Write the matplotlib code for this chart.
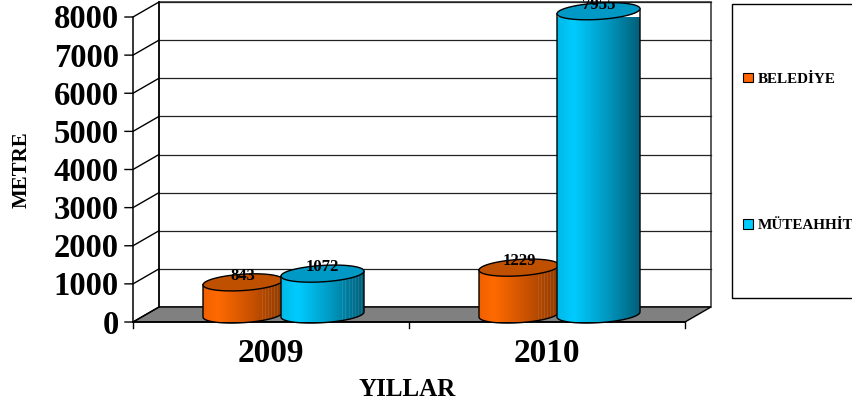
import numpy as np
import matplotlib
matplotlib.use("Agg")
import matplotlib.pyplot as plt
from matplotlib.colors import LinearSegmentedColormap
from matplotlib.patches import PathPatch, Polygon, Rectangle
from matplotlib.path import Path

years = ["2009", "2010"]
belediye = [843, 1229]
muteahhit = [1072, 7955]
series_names = ["BELEDİYE", "MÜTEAHHİT"]
y_ticks = [0, 1000, 2000, 3000, 4000, 5000, 6000, 7000, 8000]
y_label = "METRE"
x_label = "YILLAR"

W, H = 852, 408
plt.rcParams["font.family"] = ["Liberation Serif", "DejaVu Serif"]
plt.rcParams["font.weight"] = "bold"
fig = plt.figure(figsize=(W / 100, H / 100), dpi=100)

L, R, T, B = 133, 685, 17, 322
ax = fig.add_axes([L / W, 1 - B / H, (R - L) / W, (B - T) / H])
ax.axis("off")
PX = (R - L) / 2
PY = (B - T) / 8000
DX = 26 / PX       # depth of the box, x units
DY = 15 / PY       # depth of the box, y units
ELL_B = 8.2 / PY   # half height of the ellipse
TILT = 2.5 / PY    # right side of the ellipse sits higher
BASE = 7.5 / PY    # cylinder base centre above the front edge

# walls and floor
ax.add_patch(Polygon([(0, 0), (2, 0), (2 + DX, DY), (DX, DY)], closed=True,
                     fc="#808080", ec="black", lw=1, zorder=1, clip_on=False))
ax.add_patch(Rectangle((DX, DY), 2, 8000, fc="white", ec="#404040", lw=1.2, zorder=0.5, clip_on=False))
for v in y_ticks:
    if v > 0:
        ax.plot([DX, 2 + DX], [v + DY, v + DY], color="#222222", lw=0.9, zorder=0.8, clip_on=False)
    ax.plot([-8 / PX, 0, DX], [v, v, v + DY], color="black", lw=1, zorder=1.2, clip_on=False)
    ax.text(-14 / PX, v - 3 / PY, f"{v}", ha="right", va="center", fontsize=23.5, fontweight="bold", clip_on=False)
ax.plot([0, 0], [0, 8000], color="black", lw=1.1, zorder=1.2, clip_on=False)
ax.plot([DX, DX], [DY, 8000 + DY], color="black", lw=1.1, zorder=1.2, clip_on=False)
for x in [0, 1, 2]:
    ax.plot([x, x], [0, -6 / PY], color="black", lw=1, clip_on=False)
ax.plot([0, 2], [0, 0], color="black", lw=1.2, zorder=1.3, clip_on=False)

cm_orange = LinearSegmentedColormap.from_list("o", [(0, "#F06000"), (0.18, "#FF6A00"), (0.55, "#D05400"), (1, "#8F3A00")])
cm_blue = LinearSegmentedColormap.from_list("b", [(0, "#00B8E6"), (0.2, "#00CCFF"), (0.6, "#0099C2"), (1, "#005F7A")])
grad = np.linspace(0, 1, 256).reshape(1, -1)
streak_pos = np.linspace(0.74, 0.96, 7)


def cylinder(xc, width, value, cmap, top, z, streaks):
    x0, x1 = xc - width / 2, xc + width / 2
    y0, y1 = BASE, value + BASE
    t = np.linspace(np.pi, 2 * np.pi, 60)
    xs = xc + width / 2 * np.cos(t)
    ys = y0 + ELL_B * np.sin(t) + TILT * np.cos(t)
    verts = list(zip(xs, ys)) + [(x1, y1 + TILT), (x0, y1 - TILT), (xs[0], ys[0])]
    patch = PathPatch(Path(verts, closed=True), fc="none", ec="black", lw=1, zorder=z + 0.2, clip_on=False)
    ax.add_patch(patch)
    im = ax.imshow(grad, cmap=cmap, extent=[x0, x1, y0 - 2 * ELL_B, y1 + TILT], aspect="auto",
                   zorder=z, interpolation="bilinear")
    im.set_clip_path(patch)
    if streaks:
        for f in streak_pos:
            ln, = ax.plot([x0 + f * width] * 2, [y0 - 2 * ELL_B, y1 + TILT], color="white",
                          lw=0.6, alpha=0.12, zorder=z + 0.1)
            ln.set_clip_path(patch)
    t2 = np.linspace(0, 2 * np.pi, 120)
    top_x = xc + width / 2 * np.cos(t2)
    top_y = y1 + ELL_B * np.sin(t2) + TILT * np.cos(t2)
    ax.fill(top_x, top_y, fc=top, ec="black", lw=1, zorder=z + 0.3, clip_on=False)
    ax.text(xc, y1 + 6.5 / PY, f"{value}", ha="center", va="center", fontsize=12,
            fontweight="bold", zorder=z + 0.5, clip_on=False)


for i, yr in enumerate(years):
    xc = i + 0.5
    cylinder(xc - 28 / PX, 80 / PX, belediye[i], cm_orange, "#BF5000", 2 + i, True)
    cylinder(xc + 51.5 / PX, 83 / PX, muteahhit[i], cm_blue, "#0099C6", 2.5 + i, muteahhit[i] < 2000)
    ax.text(xc, -32 / PY, yr, ha="center", va="center", fontsize=24, fontweight="bold", clip_on=False)

ax.set_xlim(0, 2)
ax.set_ylim(0, 8000)

fig.text(22 / W, 1 - 170 / H, y_label, rotation=90, ha="center", va="center", fontsize=15, fontweight="bold")
fig.text(407 / W, 1 - 390 / H, x_label, ha="center", va="center", fontsize=18, fontweight="bold")

# legend
fig.add_artist(Rectangle((732 / W, 1 - 298 / H), 130 / W, 294 / H, transform=fig.transFigure,
                         fc="white", ec="black", lw=1))
handles = [Rectangle((0, 0), 1, 1, fc="#FF6600", ec="black", lw=0.8),
           Rectangle((0, 0), 1, 1, fc="#00CCFF", ec="black", lw=0.8)]
leg = fig.legend(handles, series_names, loc="upper left", bbox_to_anchor=(743 / W, 1 - 73 / H),
                 bbox_transform=fig.transFigure, frameon=False, borderpad=0, borderaxespad=0,
                 fontsize=10.9, handlelength=0.65, handleheight=0.58, handletextpad=0.3, labelspacing=8.8)
leg.set_zorder(5)

fig.savefig("out.png", dpi=100)
